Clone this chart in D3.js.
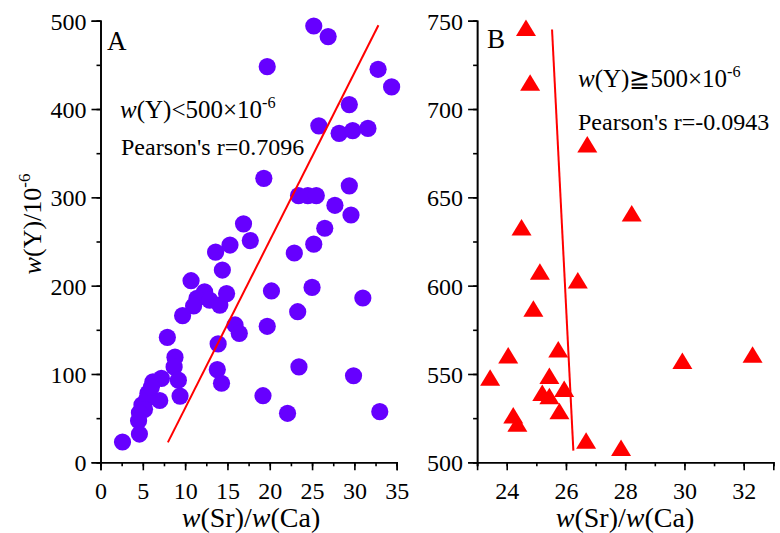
<!DOCTYPE html>
<html><head><meta charset="utf-8">
<script src="https://cdn.jsdelivr.net/npm/d3@7/dist/d3.min.js"></script>
<style>
body{margin:0;background:#fff;}
svg text{font-family:"Liberation Serif","Times New Roman",serif;fill:#000;}
</style></head>
<body><svg id="c" width="780" height="533"></svg>
<script>
// Panel A: w(Y) < 500e-6
const aX = [25.2,26.9,19.7,32.8,34.4,29.4,25.8,28.2,29.8,31.6,19.3,23.4,24.5,25.5,29.4,27.7,29.6,26.5,25.2,16.9,17.7,15.3,13.6,22.9,14.4,10.7,12.3,11.4,11.0,12.9,14.1,14.9,9.7,20.2,25.0,31.0,23.3,19.7,15.9,16.4,7.9,13.9,8.8,8.7,13.8,14.3,23.45,29.9,9.4,19.2,22.1,33.0,7.2,9.2,6.2,5.6,7.0,4.9,5.5,6.0,5.2,4.6,4.5,4.6,2.6];
const aY = [494,482,448,445,425,405,381,372.5,375.5,378,321.5,302,302,302,313,291,280,265,247,270,251,246,238,237,217.7,205.6,193,185.6,177,183.7,178,191,166,194,198,186,170.5,154,155.5,146,141.5,134,119,108,105,89.5,108,98,75,75.4,55.5,57.3,95,93,91,78,70,65,72,85,60,56,47,32,23];
const aFitX = [7.96, 32.84];
const aFitY = [22.6, 494.8];
const aXTicks = [0,5,10,15,20,25,30,35];
const aYTicks = [0,100,200,300,400,500];

// Panel B: w(Y) >= 500e-6
const bX = [24.65,24.79,26.72,28.22,24.5,25.12,26.4,24.9,24.05,25.74,23.44,25.44,25.94,25.2,25.44,25.78,24.22,24.36,26.68,27.86,29.93,32.3];
const bY = [746,715,680,641,633,608,603,587,560.6,564,548,549,541.7,539.4,537.5,529,526.6,522,512.4,508.3,557.5,561];
const bFitX = [25.53, 26.25];
const bFitY = [745, 506.6];
const bXTicks = [24,26,28,30,32];
const bYTicks = [500,550,600,650,700,750];

const svg = d3.select("#c");
const plotTop = 20.7, plotBottom = 462.3;
const SERIF = '"Liberation Serif","Times New Roman",serif';

function axes(g, x, y, xMajor, xMinor, yMajor, yMinor){
  const xa = g.append("g").attr("transform",`translate(0,${plotBottom})`)
    .call(d3.axisBottom(x).tickValues(xMinor).tickSize(4).tickFormat(""));
  const xb = g.append("g").attr("transform",`translate(0,${plotBottom})`)
    .call(d3.axisBottom(x).tickValues(xMajor).tickSize(8).tickPadding(6).tickFormat(d3.format("d")));
  const ya = g.append("g").attr("transform",`translate(${x.range()[0]},0)`)
    .call(d3.axisLeft(y).tickValues(yMinor).tickSize(4).tickFormat(""));
  const yb = g.append("g").attr("transform",`translate(${x.range()[0]},0)`)
    .call(d3.axisLeft(y).tickValues(yMajor).tickSize(9).tickPadding(5).tickFormat(d3.format("d")));
  [xa,xb,ya,yb].forEach(s=>{
    s.attr("font-family",SERIF).attr("font-size",24);
    s.selectAll("path.domain").attr("stroke","#000").attr("stroke-width",1.6);
    s.selectAll(".tick line").attr("stroke","#000").attr("stroke-width",1.6);
    s.selectAll("text").attr("font-family",SERIF).style("font-family",SERIF).style("font-size","24px").attr("fill","#000");
  });
  xb.selectAll("text").attr("dy","0.93em");
  yb.selectAll("text").attr("dy","0.35em");
}

// ---- Panel A ----
const xA = d3.scaleLinear().domain([0,35]).range([100.5,396.7]);
const yA = d3.scaleLinear().domain([0,500]).range([plotBottom, plotTop]);
const gA = svg.append("g");
axes(gA, xA, yA, aXTicks, d3.range(0,35.01,2.5), aYTicks, d3.range(0,500.1,50));
gA.append("g").selectAll("circle").data(aX.map((d,i)=>[d,aY[i]])).join("circle")
  .attr("cx",d=>xA(d[0])).attr("cy",d=>yA(d[1])).attr("r",8.6).attr("fill","#6600ff");
gA.append("path").datum(aFitX.map((d,i)=>[d,aFitY[i]]))
  .attr("d", d3.line().x(d=>xA(d[0])).y(d=>yA(d[1])))
  .attr("stroke","#ff0000").attr("stroke-width",2).attr("fill","none");

// ---- Panel B ----
const xB = d3.scaleLinear().domain([23,33]).range([477.1,773.3]);
const yB = d3.scaleLinear().domain([500,750]).range([plotBottom, plotTop]);
const gB = svg.append("g");
axes(gB, xB, yB, bXTicks, d3.range(23,33.01,1), bYTicks, d3.range(500,750.1,25));
const tri = {draw(ctx,size){ const w=20,h=16.5; ctx.moveTo(0,-h/2); ctx.lineTo(w/2,h/2); ctx.lineTo(-w/2,h/2); ctx.closePath(); }};
gB.append("g").selectAll("path").data(bX.map((d,i)=>[d,bY[i]])).join("path")
  .attr("transform",d=>`translate(${xB(d[0])},${yB(d[1])})`)
  .attr("d", d3.symbol().type(tri).size(1)).attr("fill","#ff0000");
gB.append("path").datum(bFitX.map((d,i)=>[d,bFitY[i]]))
  .attr("d", d3.line().x(d=>xB(d[0])).y(d=>yB(d[1])))
  .attr("stroke","#ff0000").attr("stroke-width",2).attr("fill","none");

// ---- Texts ----
function label(x, y, size, parts, anchor){
  const t = svg.append("text").attr("x",x).attr("y",y).style("font-size",size+"px")
    .attr("text-anchor",anchor||"start");
  parts.forEach(p=>{
    const s = t.append("tspan").text(p.t);
    if(p.i) s.style("font-style","italic");
    if(p.sup) s.attr("dy",-size*0.42).style("font-size",(size*0.65)+"px");
  });
  return t;
}
label(107,50,27,[{t:"A"}]);
label(487,48,27,[{t:"B"}]);
label(120,118,25,[{t:"w",i:1},{t:"(Y)<500×10"},{t:"-6",sup:1}]);
label(121,155,24,[{t:"Pearson's r=0.7096"}]);
label(578,87,25,[{t:"w",i:1},{t:"(Y)"},{t:"≧",}, {t:"500×10"},{t:"-6",sup:1}]);
label(578,130,24,[{t:"Pearson's r=-0.0943"}]);
label(251,527,28,[{t:"w",i:1},{t:"(Sr)/"},{t:"w",i:1},{t:"(Ca)"}],"middle");
label(625,527,28,[{t:"w",i:1},{t:"(Sr)/"},{t:"w",i:1},{t:"(Ca)"}],"middle");
label(0,0,26,[{t:"w",i:1},{t:"(Y)/10"},{t:"-6",sup:1}],"middle").attr("transform","translate(41,224) rotate(-90)");
</script></body></html>
